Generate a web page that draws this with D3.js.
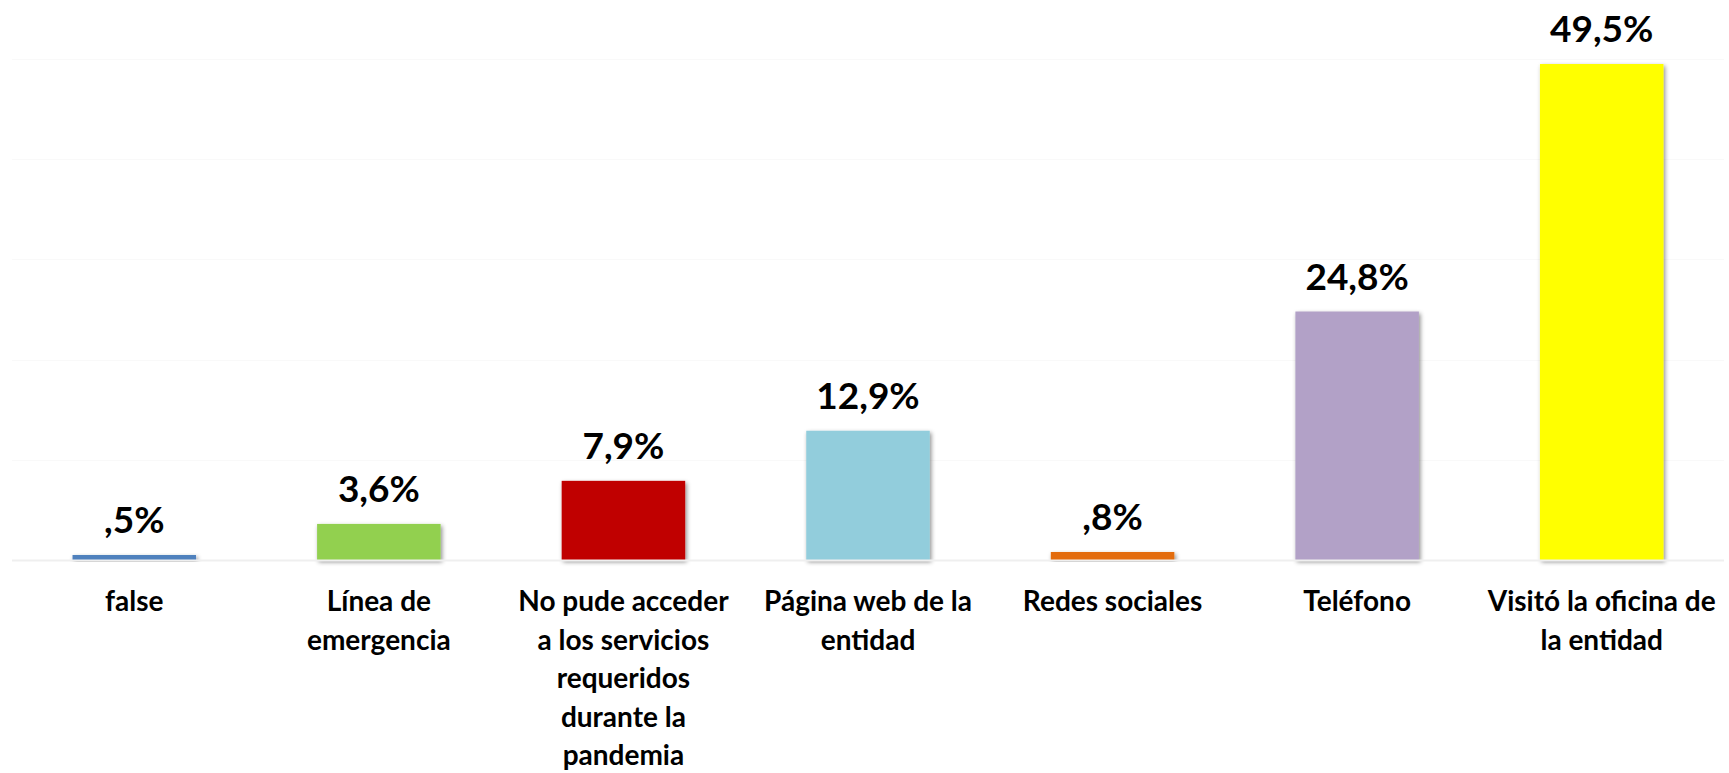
<!DOCTYPE html>
<html>
<head>
<meta charset="utf-8">
<script src="https://cdn.jsdelivr.net/npm/d3@7"></script>
<style>
  html, body { margin: 0; padding: 0; background: #ffffff; }
  svg { display: block; }
  text { font-family: Lato, "Open Sans", sans-serif; font-weight: bold; fill: #000; }
</style>
</head>
<body>
<svg id="chart" width="1729" height="773"></svg>
<script>
// Data
const categories = [
  "false",
  "Línea de\nemergencia",
  "No pude acceder\na los servicios\nrequeridos\ndurante la\npandemia",
  "Página web de la\nentidad",
  "Redes sociales",
  "Teléfono",
  "Visitó la oficina de\nla entidad"
];
const values = [0.5, 3.6, 7.9, 12.9, 0.8, 24.8, 49.5];
const valueLabels = [",5%", "3,6%", "7,9%", "12,9%", ",8%", "24,8%", "49,5%"];
const colors = ["#4f81bd", "#92d050", "#c00000", "#92cddc", "#e36c09", "#b2a1c7", "#ffff00"];
const yTicks = [0, 10, 20, 30, 40, 50];

const svg = d3.select("#chart");
const plot = { left: 12, right: 1724, top: 59, bottom: 560 };

const x = d3.scaleBand()
  .domain(categories)
  .range([plot.left, plot.right])
  .paddingInner(0.495)
  .paddingOuter(0.2475);

const y = d3.scaleLinear()
  .domain([0, 50])
  .range([plot.bottom, plot.top]);

// shadow filter
const defs = svg.append("defs");
const f = defs.append("filter").attr("id", "shadow")
  .attr("x", "-20%").attr("y", "-20%").attr("width", "140%").attr("height", "140%");
f.append("feDropShadow")
  .attr("dx", 1.5).attr("dy", 2).attr("stdDeviation", 2)
  .attr("flood-color", "#000").attr("flood-opacity", 0.45);

// gridlines
svg.append("g")
  .selectAll("line")
  .data(yTicks.filter(d => d > 0))
  .join("line")
  .attr("x1", plot.left).attr("x2", plot.right)
  .attr("y1", d => Math.round(y(d)) + 0.5).attr("y2", d => Math.round(y(d)) + 0.5)
  .attr("stroke", "#f9f9f9").attr("stroke-width", 1);

// bars
svg.append("g")
  .selectAll("rect")
  .data(values)
  .join("rect")
  .attr("x", (d, i) => x(categories[i]))
  .attr("width", x.bandwidth())
  .attr("y", d => y(d))
  .attr("height", d => y(0) - y(d))
  .attr("fill", (d, i) => colors[i])
  .attr("filter", "url(#shadow)");

// baseline
svg.append("line")
  .attr("x1", plot.left).attr("x2", plot.right)
  .attr("y1", y(0) + 0.5).attr("y2", y(0) + 0.5)
  .attr("stroke", "#efefef").attr("stroke-width", 2);

// value labels
svg.append("g")
  .selectAll("text")
  .data(values)
  .join("text")
  .attr("x", (d, i) => x(categories[i]) + x.bandwidth() / 2)
  .attr("y", d => y(d) - 22)
  .attr("text-anchor", "middle")
  .style("font-size", "37px")
  .text((d, i) => valueLabels[i]);

// category labels
const catG = svg.append("g");
categories.forEach((c, i) => {
  const cx = x(c) + x.bandwidth() / 2;
  const t = catG.append("text")
    .attr("x", cx)
    .attr("y", 611)
    .attr("text-anchor", "middle")
    .style("font-size", "28px");
  c.split("\n").forEach((line, j) => {
    t.append("tspan")
      .attr("x", cx)
      .attr("y", 611 + j * 38.5)
      .text(line);
  });
});
</script>
</body>
</html>
